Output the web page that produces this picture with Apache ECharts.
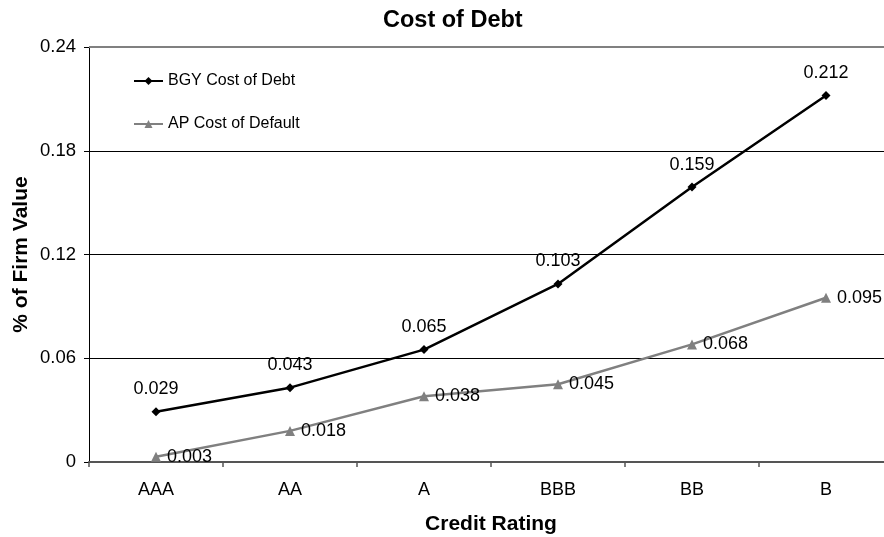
<!DOCTYPE html>
<html>
<head>
<meta charset="utf-8">
<script src="https://cdn.jsdelivr.net/npm/echarts@6/dist/echarts.min.js"></script>
<style>
html,body{margin:0;padding:0;background:#fff;}
#chart{width:884px;height:537px;}
</style>
</head>
<body>
<div id="chart"></div>
<script>
const categories = ['AAA', 'AA', 'A', 'BBB', 'BB', 'B'];
const bgyCostOfDebt = [0.029, 0.043, 0.065, 0.103, 0.159, 0.212];
const apCostOfDefault = [0.003, 0.018, 0.038, 0.045, 0.068, 0.095];
const yTickLabels = ['0', '0.06', '0.12', '0.18', '0.24'];
const yMax = 0.24;
const yStep = 0.06;

const FONT = '"Liberation Sans", Arial, sans-serif';
const chart = echarts.init(document.getElementById('chart'), null, {renderer: 'canvas'});

chart.setOption({
  backgroundColor: '#ffffff',
  animation: false,
  textStyle: {fontFamily: FONT},
  title: {
    text: 'Cost of Debt',
    left: 378,
    top: 4,
    textStyle: {fontFamily: FONT, fontSize: 23.5, fontWeight: 'bold', color: '#000'}
  },
  legend: {
    orient: 'vertical',
    left: 128,
    top: 68,
    itemWidth: 29,
    itemHeight: 10,
    itemGap: 27,
    textStyle: {fontFamily: FONT, fontSize: 16, color: '#000'},
    data: ['BGY Cost of Debt', 'AP Cost of Default']
  },
  grid: {left: 89, top: 47, width: 804, height: 415, containLabel: false, outerBoundsMode: 'none'},
  xAxis: {
    type: 'category',
    data: categories,
    boundaryGap: true,
    name: 'Credit Rating',
    nameLocation: 'middle',
    nameGap: 52,
    nameMoveOverlap: false,
    nameTextStyle: {fontFamily: FONT, fontSize: 21, fontWeight: 'bold', color: '#000', verticalAlign: 'top'},
    axisLine: {show: true, lineStyle: {color: '#555555', width: 2}},
    axisTick: {show: true, length: 5, lineStyle: {color: '#555555', width: 1.5}},
    axisLabel: {fontFamily: FONT, fontSize: 18, color: '#000', margin: 19},
    splitLine: {show: false}
  },
  yAxis: {
    type: 'value',
    min: 0,
    max: yMax,
    interval: yStep,
    name: '% of Firm Value',
    nameLocation: 'middle',
    nameGap: 57,
    nameMoveOverlap: false,
    nameTextStyle: {fontFamily: FONT, fontSize: 21, fontWeight: 'bold', color: '#000'},
    axisLine: {show: true, lineStyle: {color: '#000', width: 1}},
    axisTick: {show: true, length: 5, lineStyle: {color: '#000', width: 1}},
    axisLabel: {
      fontFamily: FONT, fontSize: 18.5, color: '#000', margin: 13,
      formatter: function (v) { return yTickLabels[Math.round(v / yStep)]; }
    },
    splitLine: {show: true, lineStyle: {color: '#000', width: 1}}
  },
  series: [
    {
      name: 'BGY Cost of Debt',
      type: 'line',
      data: bgyCostOfDebt,
      symbol: 'diamond',
      symbolSize: 9,
      itemStyle: {color: '#000'},
      lineStyle: {color: '#000', width: 2.5},
      label: {
        show: true, position: 'top', distance: 9,
        fontFamily: FONT, fontSize: 18, color: '#000',
        formatter: function (p) { return String(p.value); }
      },
      markLine: {
        silent: true,
        symbol: ['none', 'none'],
        label: {show: false},
        lineStyle: {color: '#808080', width: 2, type: 'solid'},
        data: [{yAxis: yMax}]
      },
      z: 3
    },
    {
      name: 'AP Cost of Default',
      type: 'line',
      data: apCostOfDefault,
      symbol: 'triangle',
      symbolSize: 10,
      itemStyle: {color: '#808080'},
      lineStyle: {color: '#808080', width: 2.5},
      label: {
        show: true, position: 'right', distance: 6,
        fontFamily: FONT, fontSize: 18, color: '#000',
        formatter: function (p) { return String(p.value); }
      },
      z: 2
    }
  ]
});
</script>
</body>
</html>
